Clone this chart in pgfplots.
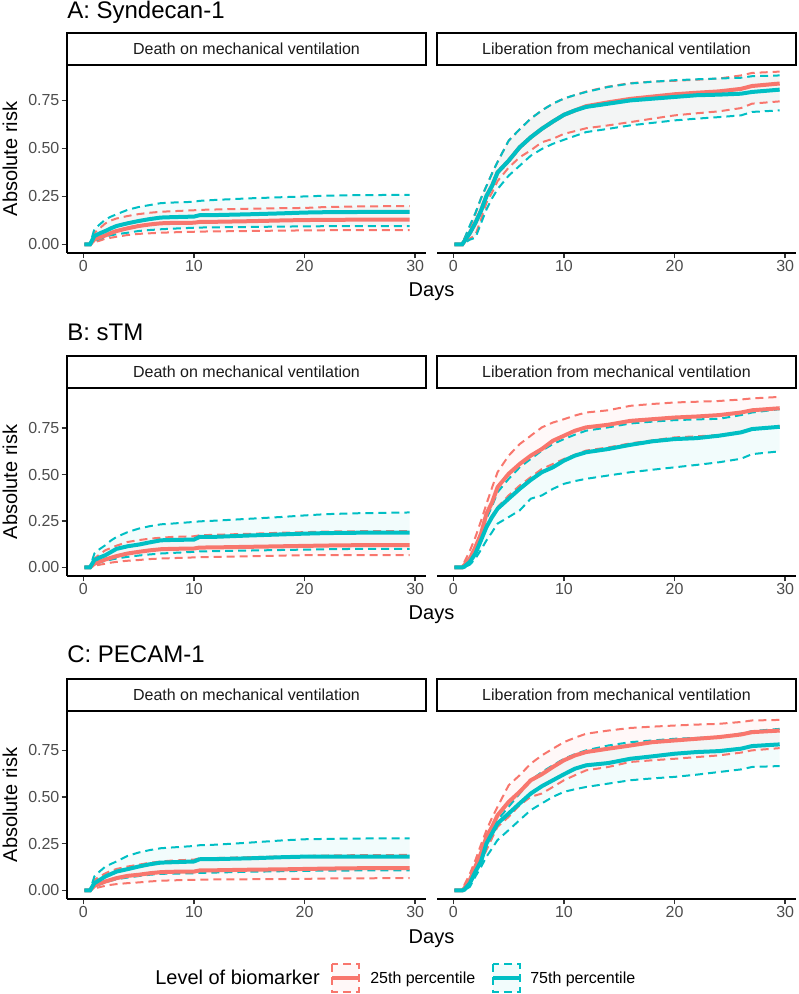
\documentclass[border=0pt]{standalone}
\usepackage{fontspec}
\setmainfont{Liberation Sans}
\usepackage{pgfplots}
\usepackage{pgfplotstable}
\pgfplotsset{compat=1.18}

\definecolor{rcol}{HTML}{F8766D}
\definecolor{ccol}{HTML}{00BFC4}
\definecolor{ticktext}{HTML}{4D4D4D}
\definecolor{tickline}{HTML}{333333}
\definecolor{striptext}{HTML}{1A1A1A}

% columns: t, red est/low/high, cyan est/low/high
\pgfplotstableread{
t    re     rl     rh     ce     cl     ch
0.1  0      0      0      0      0      0
0.6  0      0      0      0      0      0
1    0.026  0.012  0.06   0.044  0.017  0.08
1.5  0.037  0.02   0.085  0.058  0.03   0.105
2    0.047  0.03   0.11   0.07   0.04   0.13
2.5  0.06   0.035  0.125  0.084  0.048  0.145
3    0.07   0.04   0.135  0.096  0.053  0.157
4    0.084  0.049  0.148  0.11   0.061  0.18
5    0.096  0.055  0.158  0.122  0.07   0.195
6    0.104  0.058  0.165  0.132  0.075  0.205
7    0.11   0.061  0.17   0.14   0.079  0.215
8    0.112  0.063  0.173  0.142  0.082  0.218
10   0.113  0.066  0.178  0.145  0.087  0.222
10.5 0.117  0.067  0.18   0.152  0.088  0.227
12   0.118  0.068  0.182  0.153  0.089  0.232
15   0.121  0.07   0.186  0.157  0.091  0.24
18   0.125  0.072  0.189  0.162  0.093  0.246
20   0.127  0.073  0.19   0.166  0.094  0.25
22   0.128  0.074  0.195  0.168  0.095  0.254
25   0.129  0.075  0.198  0.169  0.096  0.257
29.5 0.129  0.075  0.2    0.169  0.096  0.258
}\Adeath

\pgfplotstableread{
t    re     rl     rh     ce     cl     ch
0.1  0      0      0      0      0      0
0.8  0      0      0      0      0      0
1    0.017  0.008  0.03   0.017  0.008  0.03
1.5  0.06   0.03   0.09   0.06   0.025  0.1
2    0.113  0.05   0.16   0.113  0.035  0.165
2.5  0.175  0.13   0.24   0.175  0.11   0.24
3    0.253  0.218  0.305  0.253  0.183  0.305
3.5  0.305  0.27   0.37   0.305  0.24   0.37
4    0.375  0.33   0.43   0.375  0.288  0.43
5    0.436  0.40   0.54   0.436  0.358  0.54
6    0.506  0.454  0.60   0.506  0.41   0.60
7    0.558  0.49   0.655  0.558  0.462  0.655
8    0.602  0.532  0.698  0.602  0.497  0.698
9    0.64   0.55   0.733  0.64   0.524  0.733
10   0.675  0.576  0.76   0.675  0.545  0.76
11   0.698  0.59   0.778  0.698  0.565  0.778
12   0.72   0.605  0.796  0.716  0.585  0.794
14   0.74   0.62   0.822  0.733  0.602  0.82
16   0.758  0.637  0.84   0.75   0.62   0.838
18   0.77   0.655  0.848  0.759  0.633  0.847
20   0.782  0.672  0.852  0.768  0.646  0.855
22   0.79   0.683  0.858  0.777  0.655  0.86
24   0.797  0.693  0.864  0.78   0.663  0.864
26   0.81   0.71   0.88   0.785  0.672  0.868
27   0.825  0.733  0.893  0.794  0.69   0.876
29.5 0.838  0.745  0.9    0.806  0.698  0.88
}\Alib

\pgfplotstableread{
t    re     rl     rh     ce     cl     ch
0.1  0      0      0      0      0      0
0.6  0      0      0      0      0      0
1    0.02   0.009  0.048  0.04   0.018  0.075
1.5  0.032  0.015  0.072  0.054  0.027  0.1
2    0.043  0.02   0.093  0.066  0.036  0.12
2.5  0.052  0.026  0.105  0.083  0.042  0.145
3    0.061  0.03   0.117  0.10   0.048  0.164
4    0.075  0.036  0.137  0.114  0.057  0.19
5    0.084  0.04   0.147  0.123  0.064  0.209
6    0.092  0.045  0.155  0.135  0.07   0.222
7    0.098  0.048  0.16   0.146  0.075  0.232
8    0.1    0.05   0.164  0.148  0.078  0.236
10   0.102  0.054  0.168  0.15   0.084  0.245
10.5 0.107  0.055  0.173  0.164  0.086  0.248
12   0.108  0.057  0.176  0.165  0.088  0.252
15   0.111  0.06   0.181  0.172  0.091  0.262
18   0.114  0.064  0.187  0.178  0.094  0.272
20   0.116  0.066  0.19   0.182  0.096  0.28
22   0.118  0.066  0.193  0.185  0.098  0.287
25   0.12   0.066  0.195  0.187  0.1    0.292
29.5 0.12   0.066  0.196  0.1875 0.1    0.296
}\Bdeath

\pgfplotstableread{
t    re     rl     rh     ce     cl     ch
0.1  0      0      0      0      0      0
0.8  0      0      0      0      0      0
1    0.0125 0.005  0.03   0.004  0.0    0.015
1.5  0.048  0.025  0.09   0.03   0.015  0.055
2    0.11   0.075  0.164  0.075  0.048  0.11
2.5  0.18   0.15   0.25   0.146  0.095  0.19
3    0.29   0.236  0.343  0.218  0.146  0.2625
3.5  0.35   0.28   0.43   0.271  0.19   0.33
4    0.432  0.325  0.513  0.316  0.236  0.405
5    0.504  0.3875 0.602  0.37   0.271  0.477
6    0.557  0.441  0.664  0.423  0.307  0.539
7    0.602  0.486  0.709  0.471  0.37   0.584
8    0.6375 0.53   0.754  0.5125 0.3875 0.629
9    0.682  0.557  0.78   0.539  0.423  0.664
10   0.709  0.584  0.798  0.575  0.45   0.691
11   0.736  0.607  0.818  0.602  0.465  0.715
12   0.754  0.629  0.834  0.62   0.477  0.736
14   0.768  0.646  0.846  0.6375 0.495  0.754
16   0.789  0.668  0.87   0.66   0.5125 0.775
18   0.798  0.684  0.88   0.679  0.526  0.785
20   0.807  0.70   0.888  0.691  0.539  0.793
22   0.8125 0.706  0.892  0.696  0.552  0.797
24   0.82   0.7125 0.896  0.709  0.566  0.80
26   0.834  0.728  0.904  0.727  0.585  0.82
27   0.846  0.745  0.91   0.745  0.61   0.834
29.5 0.857  0.7625 0.918  0.757  0.625  0.852
}\Blib

\pgfplotstableread{
t    re     rl     rh     ce     cl     ch
0.1  0      0      0      0      0      0
0.6  0      0      0      0      0      0
1    0.025  0.011  0.057  0.039  0.021  0.075
1.5  0.037  0.018  0.075  0.057  0.032  0.103
2    0.048  0.025  0.092  0.075  0.043  0.128
2.5  0.057  0.03   0.105  0.088  0.052  0.142
3    0.066  0.034  0.115  0.101  0.06   0.155
4    0.078  0.039  0.128  0.114  0.069  0.185
5    0.084  0.043  0.138  0.128  0.077  0.203
6    0.092  0.048  0.148  0.14   0.084  0.216
7    0.098  0.052  0.155  0.149  0.089  0.226
8    0.1    0.054  0.16   0.151  0.09   0.23
10   0.101  0.057  0.165  0.155  0.092  0.238
10.5 0.107  0.058  0.172  0.167  0.094  0.242
12   0.108  0.059  0.174  0.168  0.096  0.245
15   0.111  0.06   0.178  0.172  0.1    0.256
18   0.113  0.061  0.182  0.178  0.103  0.268
20   0.115  0.062  0.185  0.181  0.105  0.274
22   0.117  0.064  0.187  0.181  0.106  0.276
25   0.119  0.065  0.189  0.181  0.107  0.278
29.5 0.119  0.066  0.19   0.181  0.107  0.279
}\Cdeath

\pgfplotstableread{
t    re     rl     rh     ce     cl     ch
0.1  0      0      0      0      0      0
0.8  0      0      0      0      0      0
1    0.012  0.005  0.03   0.004  0      0.015
1.5  0.057  0.035  0.09   0.039  0.02   0.06
2    0.128  0.092  0.163  0.101  0.075  0.13
2.5  0.199  0.15   0.245  0.155  0.125  0.2
3    0.288  0.217  0.323  0.252  0.181  0.261
3.5  0.341  0.28   0.39   0.306  0.225  0.32
4    0.403  0.341  0.448  0.359  0.27   0.377
5    0.474  0.394  0.563  0.412  0.323  0.448
6    0.528  0.457  0.617  0.466  0.377  0.519
7    0.59   0.501  0.679  0.519  0.43   0.59
8    0.622  0.519  0.723  0.558  0.466  0.634
9    0.661  0.554  0.759  0.59   0.501  0.67
10   0.697  0.59   0.794  0.622  0.528  0.705
11   0.723  0.617  0.818  0.652  0.542  0.73
12   0.741  0.643  0.839  0.67   0.554  0.75
14   0.759  0.661  0.856  0.682  0.572  0.776
16   0.776  0.688  0.87   0.705  0.59   0.794
18   0.794  0.697  0.877  0.718  0.6    0.803
20   0.803  0.705  0.883  0.732  0.608  0.812
22   0.812  0.714  0.888  0.741  0.62   0.817
24   0.821  0.723  0.892  0.746  0.634  0.821
26   0.835  0.738  0.902  0.759  0.648  0.84
27   0.8475 0.75   0.91   0.773  0.661  0.853
29.5 0.856  0.762  0.913  0.782  0.666  0.865
}\Clib

\newcommand{\tickfont}{\fontsize{12}{14}\selectfont}
\newcommand{\titlefont}{\fontsize{15}{18}\selectfont}

\pgfplotsset{
  geom/.style={scale only axis, width=269.25pt, height=141pt,
    xmin=-1.475, xmax=30.975},
  panel/.style={geom,
    xtick={0,10,20,30},
    axis x line*=bottom,
    axis line style={-, black, line width=1.1pt},
    tick align=outside, major tick length=4pt,
    tick style={tickline, line width=1.1pt},
    tick label style={font=\tickfont, text=ticktext},
    /pgf/number format/assume math mode=true,
    xticklabel style={inner ysep=1.5pt},
  },
  leftpanel/.style={panel, axis y line*=left,
    ytick={0,0.25,0.5,0.75}, yticklabels={0.00,0.25,0.50,0.75},
    yticklabel style={inner xsep=1.5pt}},
  rightpanel/.style={panel, axis y line=none},
  ribbonaxis/.style={geom, axis lines=none, stack plots=y},
  rdash/.style={rcol, line width=1.5pt, dash pattern=on 6pt off 3.75pt},
  cdash/.style={ccol, line width=1.5pt, dash pattern=on 6pt off 3.75pt},
  rmain/.style={rcol, line width=3pt},
  cmain/.style={ccol, line width=3pt},
}

% confidence ribbons, stacked: rl, +(rh-rl), +(cl-rh), +(ch-cl)
\newcommand{\ribbons}[1]{%
  \addplot[draw=none] table[x=t,y=rl]{#1};
  \addplot[fill=rcol, fill opacity=0.05, draw=none] table[x=t,y expr=\thisrow{rh}-\thisrow{rl}]{#1} \closedcycle;
  \addplot[draw=none] table[x=t,y expr=\thisrow{cl}-\thisrow{rh}]{#1};
  \addplot[fill=ccol, fill opacity=0.05, draw=none] table[x=t,y expr=\thisrow{ch}-\thisrow{cl}]{#1} \closedcycle;
}
\newcommand{\curves}[1]{%
  \addplot[rdash] table[x=t,y=rh]{#1};
  \addplot[rdash] table[x=t,y=rl]{#1};
  \addplot[cdash] table[x=t,y=ch]{#1};
  \addplot[cdash] table[x=t,y=cl]{#1};
  \addplot[rmain] table[x=t,y=re]{#1};
  \addplot[cmain] table[x=t,y=ce]{#1};
}

% strip boxes; argument = top edge in px from the top (inside a px-scaled scope)
\newcommand{\strips}[1]{%
  \draw[line width=1.1pt] (67,994-#1) rectangle (426,994-#1-32);
  \draw[line width=1.1pt] (437,994-#1) rectangle (796,994-#1-32);
  \node[anchor=base, font=\tickfont, text=striptext] at (246.5,994-#1-22) {Death on mechanical ventilation};
  \node[anchor=base, font=\tickfont, text=striptext] at (616.5,994-#1-22) {Liberation from mechanical ventilation};
}

\begin{document}
\begin{tikzpicture}
\path (0pt,0pt) rectangle (597.75pt,745.5pt);

% ---- A ----
\begin{axis}[ribbonaxis, at={(50.25pt,555.75pt)}, ymin=-0.0445, ymax=0.9345]
\ribbons{\Adeath}
\end{axis}
\begin{axis}[leftpanel, at={(50.25pt,555.75pt)}, ymin=-0.0445, ymax=0.9345]
\curves{\Adeath}
\end{axis}
\begin{axis}[ribbonaxis, at={(327.75pt,555.75pt)}, ymin=-0.0445, ymax=0.9345]
\ribbons{\Alib}
\end{axis}
\begin{axis}[rightpanel, at={(327.75pt,555.75pt)}, ymin=-0.0445, ymax=0.9345]
\curves{\Alib}
\end{axis}

% ---- B ----
\begin{axis}[ribbonaxis, at={(50.25pt,313.5pt)}, ymin=-0.046, ymax=0.966]
\ribbons{\Bdeath}
\end{axis}
\begin{axis}[leftpanel, at={(50.25pt,313.5pt)}, ymin=-0.046, ymax=0.966]
\curves{\Bdeath}
\end{axis}
\begin{axis}[ribbonaxis, at={(327.75pt,313.5pt)}, ymin=-0.046, ymax=0.966]
\ribbons{\Blib}
\end{axis}
\begin{axis}[rightpanel, at={(327.75pt,313.5pt)}, ymin=-0.046, ymax=0.966]
\curves{\Blib}
\end{axis}

% ---- C ----
\begin{axis}[ribbonaxis, at={(50.25pt,71.25pt)}, ymin=-0.0458, ymax=0.9608]
\ribbons{\Cdeath}
\end{axis}
\begin{axis}[leftpanel, at={(50.25pt,71.25pt)}, ymin=-0.0458, ymax=0.9608]
\curves{\Cdeath}
\end{axis}
\begin{axis}[ribbonaxis, at={(327.75pt,71.25pt)}, ymin=-0.0458, ymax=0.9608]
\ribbons{\Clib}
\end{axis}
\begin{axis}[rightpanel, at={(327.75pt,71.25pt)}, ymin=-0.0458, ymax=0.9608]
\curves{\Clib}
\end{axis}

\begin{scope}[x=0.75pt, y=0.75pt]
\strips{33}
\node[anchor=base west, inner sep=0pt, font=\fontsize{18}{21}\selectfont] at (67,994-19) {A: Syndecan-1};
\node[anchor=base, inner sep=0pt, rotate=90, font=\titlefont] at (17,994-159) {Absolute risk};
\node[anchor=base, font=\titlefont] at (431.5,994-297) {Days};

\strips{356}
\node[anchor=base west, inner sep=0pt, font=\fontsize{18}{21}\selectfont] at (67,994-341) {B: sTM};
\node[anchor=base, inner sep=0pt, rotate=90, font=\titlefont] at (17,994-482) {Absolute risk};
\node[anchor=base, font=\titlefont] at (431.5,994-620) {Days};

\strips{679}
\node[anchor=base west, inner sep=0pt, font=\fontsize{18}{21}\selectfont] at (67,994-663) {C: PECAM-1};
\node[anchor=base, inner sep=0pt, rotate=90, font=\titlefont] at (17,994-805) {Absolute risk};
\node[anchor=base, font=\titlefont] at (431.5,994-944) {Days};

% legend
\node[anchor=base west, inner sep=0pt, font=\titlefont] at (155,994-985) {Level of biomarker};
\fill[rcol, opacity=0.05] (332,994-964) rectangle (359,994-992);
\draw[rcol, line width=1.5pt, dash pattern=on 6pt off 3.75pt] (332,994-964) rectangle (359,994-992);
\draw[rcol, line width=3pt] (332,994-978) -- (359,994-978);
\node[anchor=base west, inner sep=0pt, font=\tickfont] at (370,994-983) {25th percentile};
\fill[ccol, opacity=0.05] (493,994-964) rectangle (520,994-992);
\draw[ccol, line width=1.5pt, dash pattern=on 6pt off 3.75pt] (493,994-964) rectangle (520,994-992);
\draw[ccol, line width=3pt] (493,994-978) -- (520,994-978);
\node[anchor=base west, inner sep=0pt, font=\tickfont] at (530,994-983) {75th percentile};
\end{scope}
\end{tikzpicture}
\end{document}
